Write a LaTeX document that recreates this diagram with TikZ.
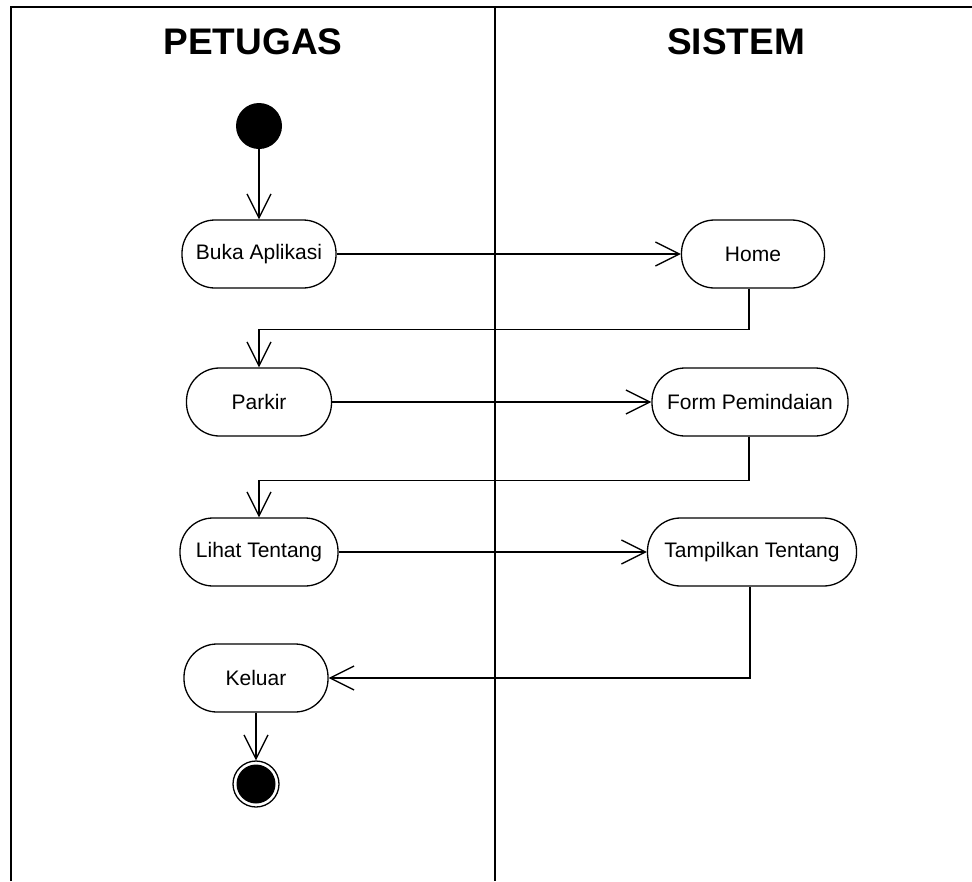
\documentclass[tikz,border=0pt]{standalone}
\usepackage{fontspec}
\setmainfont{Liberation Sans}
\usetikzlibrary{arrows.meta}
\begin{document}
\begin{tikzpicture}[x=1pt,y=-1pt,
  act/.style={draw, line width=1.3pt, rounded corners=33pt, minimum height=68pt,
    inner sep=0pt, font=\fontsize{21}{24}\selectfont},
  flow/.style={line width=1.3pt, -{Straight Barb[length=24pt,width=24pt,line width=1.3pt]}},
  lane/.style={line width=2.5pt},
  head/.style={font=\bfseries\fontsize{37}{40}\selectfont}]
\useasboundingbox (0,0) rectangle (972,881);

% swimlane frame
\draw[lane] (11,881) -- (11,7) -- (972,7);
\draw[lane] (495,7) -- (495,881);
\node[head] (petugas) at (253,42) {PETUGAS};
\node[head] (sistem) at (736,42) {SISTEM};

% activities
\node[circle, fill, minimum size=46pt, inner sep=0pt] (start) at (259,126) {};
\node[act, minimum width=154pt] (buka) at (259,254) {Buka Aplikasi};
\node[act, minimum width=143pt] (home) at (753,254) {Home};
\node[act, minimum width=145pt] (parkir) at (259,402) {Parkir};
\node[act, minimum width=196pt] (form) at (750,402) {Form Pemindaian};
\node[act, minimum width=158pt] (lihat) at (259,552) {Lihat Tentang};
\node[act, minimum width=209pt] (tampil) at (752,552) {Tampilkan Tentang};
\node[act, minimum width=144pt] (keluar) at (256,678) {Keluar};
\node[circle, draw, line width=1.3pt, minimum size=46pt, inner sep=0pt] (end) at (256,784) {};
\fill (end.center) circle (19.5);

% control flow
\draw[flow] (start) -- (buka);
\draw[flow] (buka) -- (home);
\draw[flow] ([xshift=-4pt]home.south) -- ++(0,41) -| (parkir.north);
\draw[flow] (parkir) -- (form);
\draw[flow] ([xshift=-1pt]form.south) -- ++(0,44) -| (lihat.north);
\draw[flow] (lihat) -- (tampil);
\draw[flow] ([xshift=-2pt]tampil.south) |- (keluar.east);
\draw[flow] (keluar) -- (end);
\end{tikzpicture}
\end{document}
